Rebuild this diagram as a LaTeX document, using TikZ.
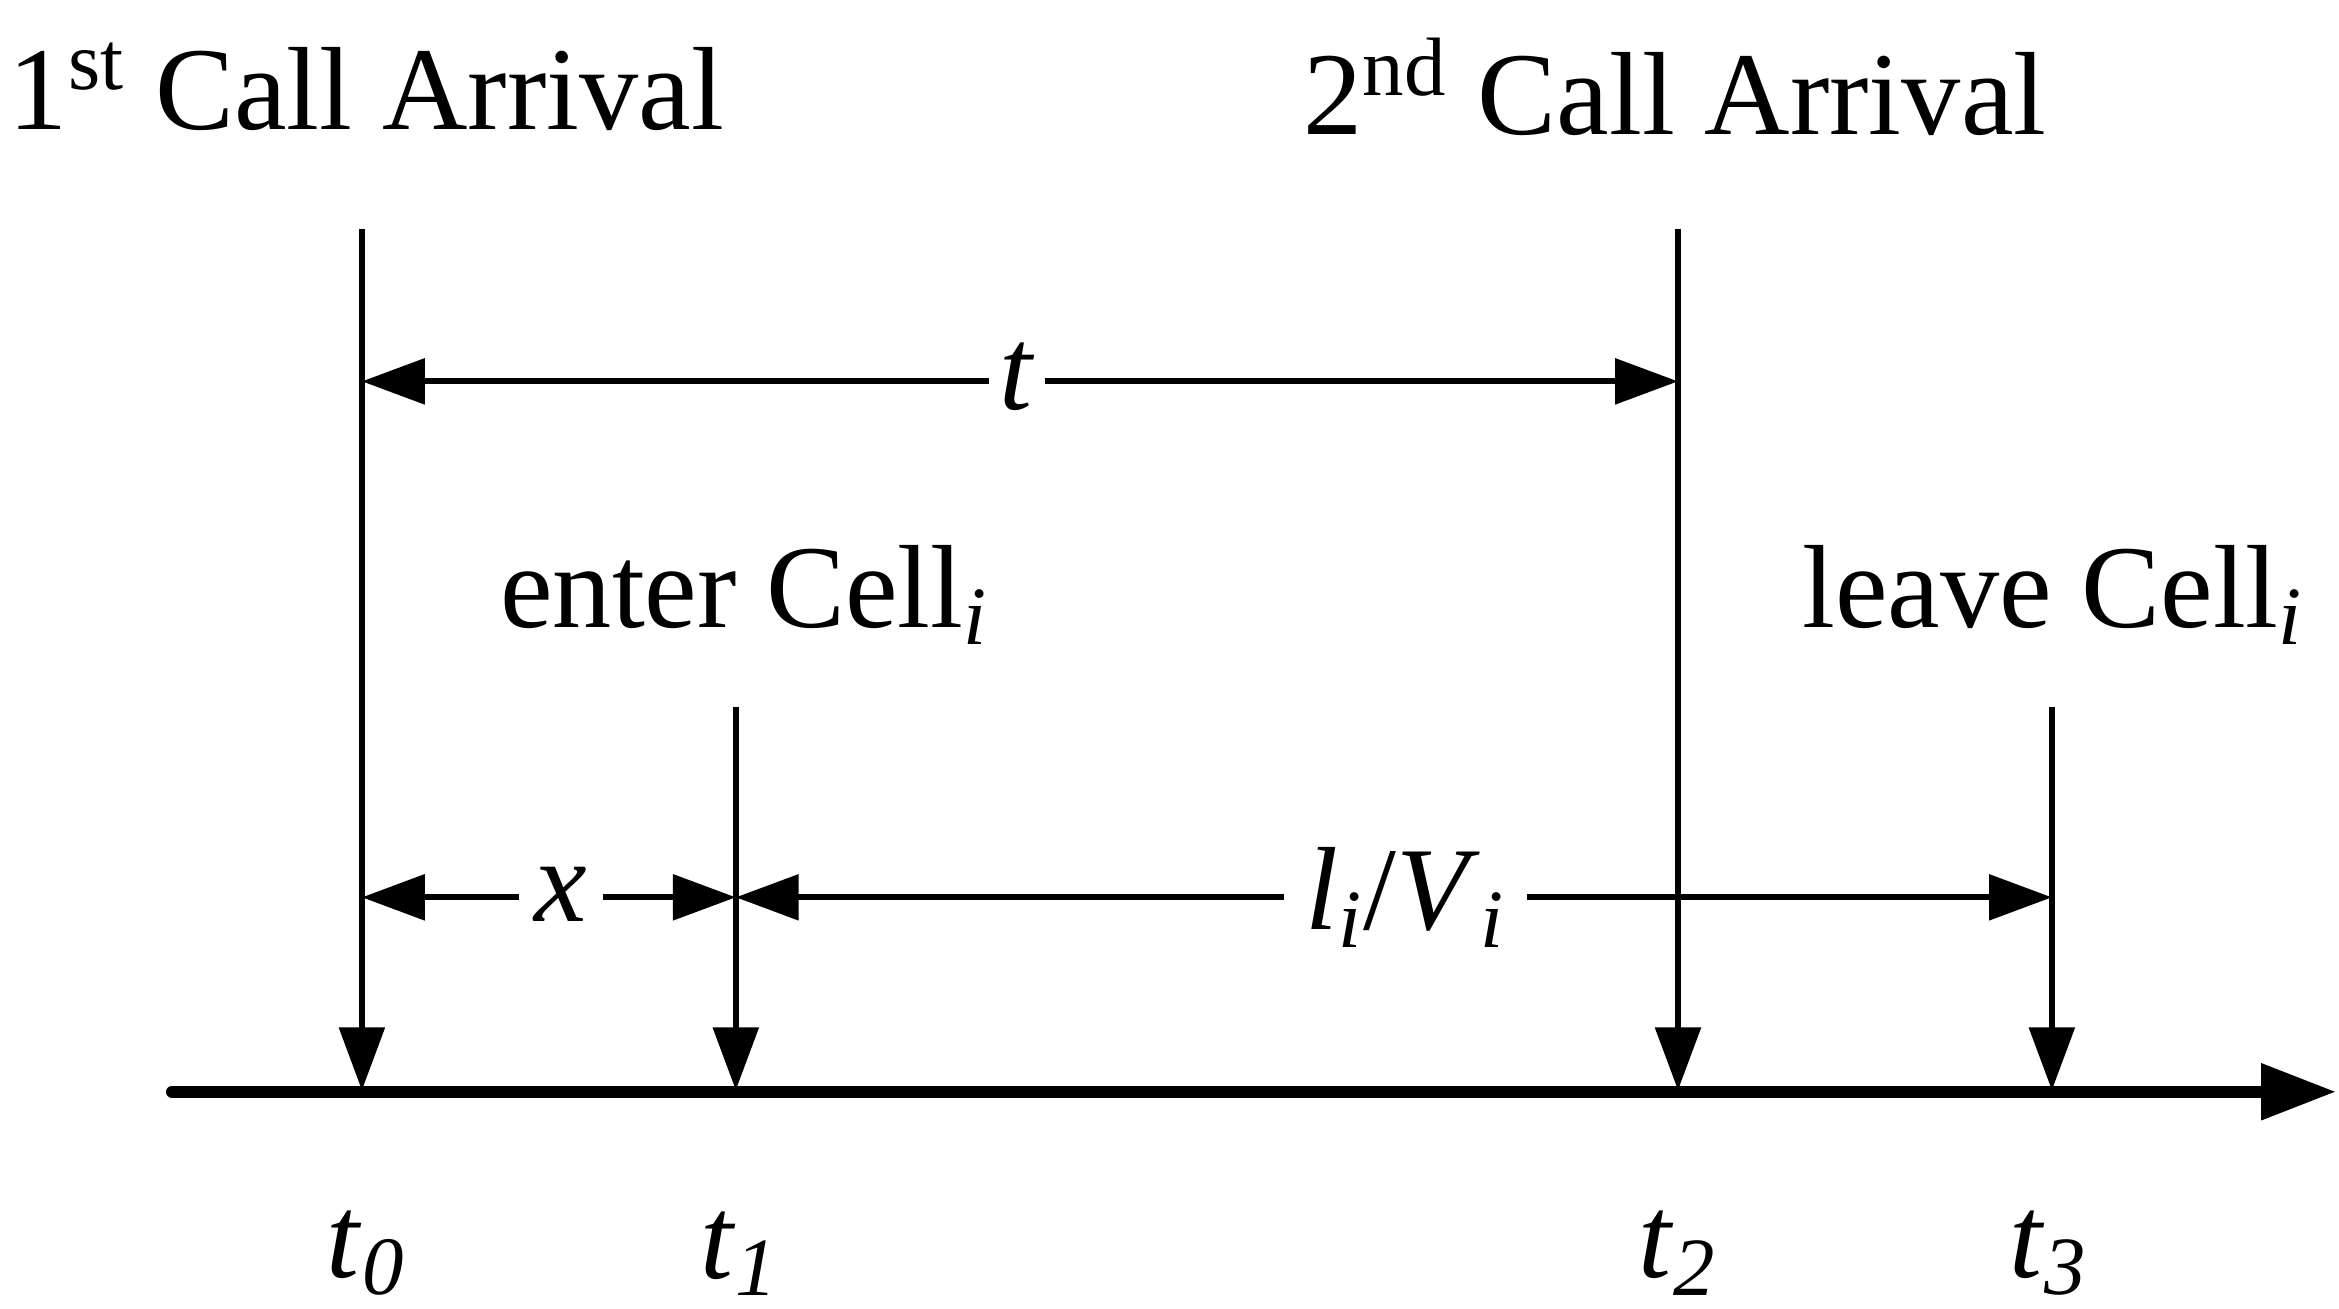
\documentclass[tikz,border=0pt]{standalone}
\usepackage{fontspec}
\setmainfont{Liberation Serif}
\usetikzlibrary{arrows.meta}
\begin{document}
\begin{tikzpicture}[x=0.01cm,y=-0.01cm,
  lbl/.style={font=\fontsize{22.5}{26}\selectfont, inner sep=0pt},
  thin/.style={line width=0.04cm},
  tip/.style={-{Triangle[length=0.42cm,width=0.3cm]}},
  dbl/.style={{Triangle[length=0.42cm,width=0.3cm]}-{Triangle[length=0.42cm,width=0.3cm]}}]
\useasboundingbox (0,0) rectangle (1564,875);
% axis
\coordinate (a0) at (115,730);
\coordinate (a1) at (1562,730);
\draw[line width=0.08cm, line cap=round, -{Triangle[length=0.5cm,width=0.36cm]}] (a0) -- (a1);
% verticals
\coordinate (v0t) at (242,153); \coordinate (v0b) at (242,729);
\coordinate (v1t) at (492,473); \coordinate (v1b) at (492,729);
\coordinate (v2t) at (1122,153); \coordinate (v2b) at (1122,729);
\coordinate (v3t) at (1372,473); \coordinate (v3b) at (1372,729);
\foreach \a/\b in {v0t/v0b,v1t/v1b,v2t/v2b,v3t/v3b}
  \draw[thin,tip] (\a) -- (\b);
% dimension arrows
\coordinate (d0) at (242,255); \coordinate (d1) at (1122,255);
\draw[thin,dbl] (d0) -- (d1);
\node[lbl, fill=white, inner xsep=2pt] (tl) at (680,252) {\textit{t}};
\coordinate (x0) at (242,600); \coordinate (x1) at (492,600);
\draw[thin,dbl] (x0) -- (x1);
\node[lbl, fill=white, inner xsep=3pt] (xl) at (375,598) {\textit{x}};
\coordinate (l1) at (1372,600);
\draw[thin,dbl] (x1) -- (l1);
\node[lbl, fill=white, inner xsep=4pt] (ll) at (940,600) {\textit{l}\textsubscript{\textit{i}}/\textit{V}\textsubscript{\textit{i}}};
% labels
\node[lbl] (c1) at (245,58) {1\textsuperscript{st} Call Arrival};
\node[lbl] (c2) at (1120,58) {2\textsuperscript{nd} Call Arrival};
\node[lbl] (en) at (498,398) {enter Cell\textsubscript{\textit{i}}};
\node[lbl] (lv) at (1373,398) {leave Cell\textsubscript{\textit{i}}};
\node[lbl] (t0) at (245,838) {\textit{t}\textsubscript{\textit{0}}};
\node[lbl] (t1) at (495,838) {\textit{t}\textsubscript{\textit{1}}};
\node[lbl] (t2) at (1122,838) {\textit{t}\textsubscript{\textit{2}}};
\node[lbl] (t3) at (1370,838) {\textit{t}\textsubscript{\textit{3}}};
\end{tikzpicture}
\end{document}
